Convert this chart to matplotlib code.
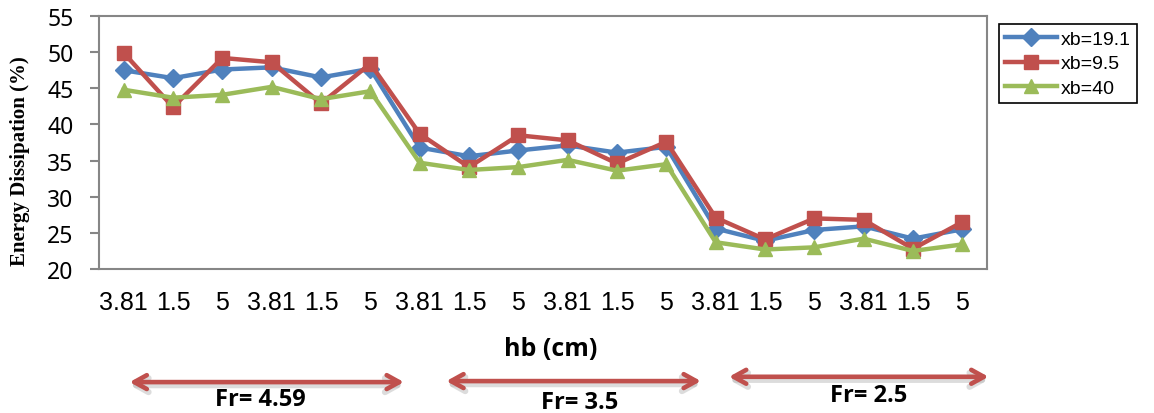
import numpy as np
import matplotlib.pyplot as plt
import matplotlib.transforms as mtransforms

# hb (cm) 分组标签
hb_labels = ['3.81', '1.5', '5'] * 6
fr_labels = ['Fr= 4.59', 'Fr= 3.5', 'Fr= 2.5']

# 能量耗散 (%)
xb_19_1 = [47.5, 46.4, 47.6, 47.9, 46.5, 47.7, 36.8, 35.6, 36.4, 37.1, 36.1, 36.9,
           25.6, 23.9, 25.4, 25.9, 24.2, 25.5]
xb_9_5 = [49.9, 42.4, 49.2, 48.6, 42.9, 48.4, 38.7, 34.1, 38.5, 37.8, 34.6, 37.6,
          27.1, 24.1, 27.0, 26.8, 22.8, 26.5]
xb_40 = [44.8, 43.7, 44.1, 45.2, 43.5, 44.6, 34.7, 33.7, 34.1, 35.1, 33.6, 34.5,
         23.7, 22.7, 23.0, 24.2, 22.5, 23.4]

blue = '#4F81BD'
red = '#C0504D'
green = '#9BBB59'
frame = '#868686'

fig = plt.figure(figsize=(11.54, 4.14), dpi=100)
ax = fig.add_axes([0.0858, 0.3478, 0.7695, 0.6111])

x = np.arange(len(hb_labels))
ax.plot(x, xb_19_1, color=blue, lw=3.2, marker='D', markersize=9, label='xb=19.1')
ax.plot(x, xb_9_5, color=red, lw=3.2, marker='s', markersize=10, label='xb=9.5')
ax.plot(x, xb_40, color=green, lw=3.2, marker='^', markersize=10, label='xb=40')

ax.set_xlim(-0.5, len(hb_labels) - 0.5)
ax.set_ylim(20, 55)
ax.set_yticks(np.arange(20, 56, 5))
ax.set_xticks(x)
ax.set_xticklabels(hb_labels, fontsize=18, family='Liberation Sans')
for t in ax.get_yticklabels():
    t.set_fontsize(16.5)
    t.set_family('Noto Sans')
ax.tick_params(axis='x', length=0, pad=15)
ax.tick_params(axis='y', length=6.5, width=1.5, color=frame, pad=12)
for s in ax.spines.values():
    s.set_color(frame)
    s.set_linewidth(1.5)

fig.text(0.017, 0.61, 'Energy Dissipation (%)', rotation=90, ha='center',
         va='center', fontsize=15, fontweight='bold', family='Liberation Serif')

fig.text(0.477, 0.157, 'hb (cm)', ha='center', va='center', fontsize=18,
         fontweight='bold', family='Open Sans')

# Fr 分组箭头
trans = mtransforms.blended_transform_factory(ax.transData, ax.transAxes)
arrow_spans = [(0.12, 5.68, -0.447), (6.54, 11.7, -0.443), (12.27, 17.53, -0.426)]
label_pos = [(2.77, -0.514), (9.25, -0.526), (15.1, -0.498)]
for (x0, x1, ay), (lx, ly), lab in zip(arrow_spans, label_pos, fr_labels):
    # 阴影
    ax.annotate('', xy=(x1, ay - 0.012), xytext=(x0, ay - 0.012), xycoords=trans,
                textcoords=trans, annotation_clip=False,
                arrowprops=dict(arrowstyle='<->,head_length=0.9,head_width=0.5',
                                color='#BBBBBB', alpha=0.5, lw=4.5, shrinkA=0, shrinkB=0))
    ax.annotate('', xy=(x1, ay), xytext=(x0, ay), xycoords=trans,
                textcoords=trans, annotation_clip=False,
                arrowprops=dict(arrowstyle='<->,head_length=0.9,head_width=0.5',
                                color=red, lw=3.3, shrinkA=0, shrinkB=0))
    ax.text(lx, ly, lab, transform=trans, ha='center', va='center',
            fontsize=17, fontweight='bold', family='Open Sans', clip_on=False)

leg = fig.legend(loc='upper left', bbox_to_anchor=(0.857, 0.962),
                 frameon=True, fancybox=False, edgecolor='black', framealpha=1,
                 handlelength=2.7, handletextpad=0.2, borderpad=0.3,
                 labelspacing=0.35, prop={'family': 'Liberation Sans', 'size': 14})
leg.get_frame().set_linewidth(1.2)

plt.savefig('out.png', dpi=100)
